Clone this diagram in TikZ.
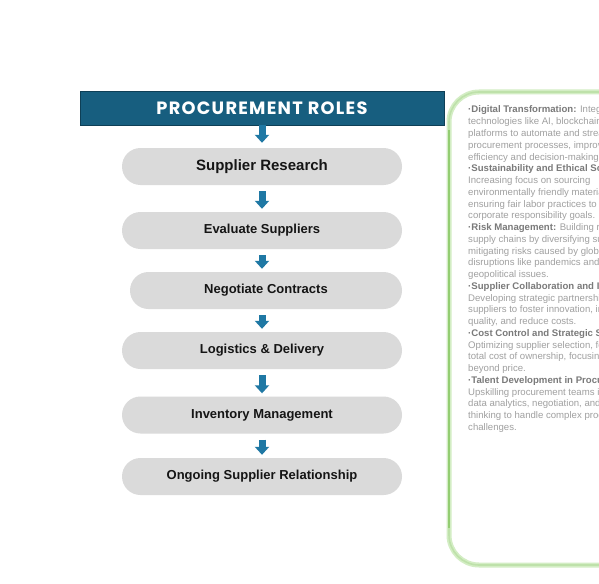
\documentclass[tikz,border=0pt]{standalone}
\usepackage{fontspec}
\setmainfont{Liberation Sans}
\newfontfamily\titlefont[LetterSpace=7]{Poppins}
\usetikzlibrary{arrows.meta}
\definecolor{titleblue}{HTML}{175E7F}
\definecolor{titleedge}{HTML}{0E3F56}
\definecolor{pillgray}{HTML}{DADADA}
\definecolor{arrowblue}{HTML}{1F78A4}
\definecolor{pilltext}{HTML}{151515}
\definecolor{greenlight}{HTML}{D3EDC4}
\definecolor{greenmid}{HTML}{93CD72}
\definecolor{blurbold}{HTML}{7A7A7A}
\definecolor{blurtext}{HTML}{A0A0A0}
\tikzset{
  titlebox/.style={draw=titleedge, line width=0.8pt, fill=titleblue, text=white,
    minimum width=364pt, minimum height=34pt, inner sep=0pt,
    font=\titlefont\bfseries\fontsize{17.8}{19}\selectfont},
  pill/.style={fill=pillgray, rounded corners=18.5pt, minimum width=280pt,
    minimum height=37pt, inner sep=0pt, text=pilltext,
    font=\bfseries\fontsize{13}{15}\selectfont},
  flowarrow/.style={draw=arrowblue, line width=7pt,
    -{Triangle[width=14pt,length=8pt]}, arrowblue},
  paneltext/.style={anchor=base west, inner sep=0pt, text=blurtext,
    font=\fontsize{9.6}{11}\selectfont},
}
\begin{document}
\begin{tikzpicture}[x=1pt,y=-1pt]
\useasboundingbox (0,0) rectangle (599,583);
\fill[white] (0,0) rectangle (599,583);

% title and steps
\node[titlebox] (t) at (262,108) {PROCUREMENT ROLES};
\node[pill, font=\bfseries\fontsize{15}{17}\selectfont] (p1) at (262,166.5) {Supplier Research};
\node[pill] (p2) at (262,230.5) {Evaluate Suppliers};
\node[pill, minimum width=272pt] (p3) at (266,290.5) {Negotiate Contracts};
\node[pill] (p4) at (262,350.5) {Logistics \& Delivery};
\node[pill] (p5) at (262,415) {Inventory Management};
\node[pill] (p6) at (262,476.5) {Ongoing Supplier Relationship};

\draw[flowarrow, shorten >=5pt] (t.south) -- (p1.north);
\draw[flowarrow, shorten <=6pt, shorten >=3pt] (p1.south) -- (p2.north);
\draw[flowarrow, shorten <=6pt, shorten >=3pt] (p2.south) -- (p3.north -| p2.south);
\draw[flowarrow, shorten <=6pt, shorten >=3pt] (p3.south -| p2.south) -- (p4.north);
\draw[flowarrow, shorten <=6pt, shorten >=3pt] (p4.south) -- (p5.north);
\draw[flowarrow, shorten <=6pt, shorten >=3pt] (p5.south) -- (p6.north);

% right panel
\begin{scope}
\clip (0,0) rectangle (599,583);
\draw[greenlight, line width=5pt, rounded corners=30pt] (449,92) rectangle (680,565);
\draw[greenmid!60!white, line width=1.6pt, rounded corners=30pt] (449,92) rectangle (680,565);
\draw[greenmid, line width=2.2pt] (449,130) -- (449,528);
\foreach \txt [count=\i] in {
  {\textcolor{blurbold}{\bfseries ·Digital Transformation:} Integrating},
  {technologies like AI, blockchain, and digital},
  {platforms to automate and streamline},
  {procurement processes, improving},
  {efficiency and decision-making.},
  {\textcolor{blurbold}{\bfseries ·Sustainability and Ethical Sourcing:}},
  {Increasing focus on sourcing},
  {environmentally friendly materials and},
  {ensuring fair labor practices to meet},
  {corporate responsibility goals.},
  {\textcolor{blurbold}{\bfseries ·Risk Management:} Building resilient},
  {supply chains by diversifying suppliers and},
  {mitigating risks caused by global},
  {disruptions like pandemics and},
  {geopolitical issues.},
  {\textcolor{blurbold}{\bfseries ·Supplier Collaboration and Innovation:}},
  {Developing strategic partnerships with},
  {suppliers to foster innovation, improve},
  {quality, and reduce costs.},
  {\textcolor{blurbold}{\bfseries ·Cost Control and Strategic Sourcing:}},
  {Optimizing supplier selection, focusing on},
  {total cost of ownership, focusing},
  {beyond price.},
  {\textcolor{blurbold}{\bfseries ·Talent Development in Procurement:}},
  {Upskilling procurement teams in},
  {data analytics, negotiation, and strategic},
  {thinking to handle complex procurement},
  {challenges.}}
  \node[paneltext] (line\i) at (468,{113+11.75*(\i-1)}) {\txt};
\end{scope}
\end{tikzpicture}
\end{document}
